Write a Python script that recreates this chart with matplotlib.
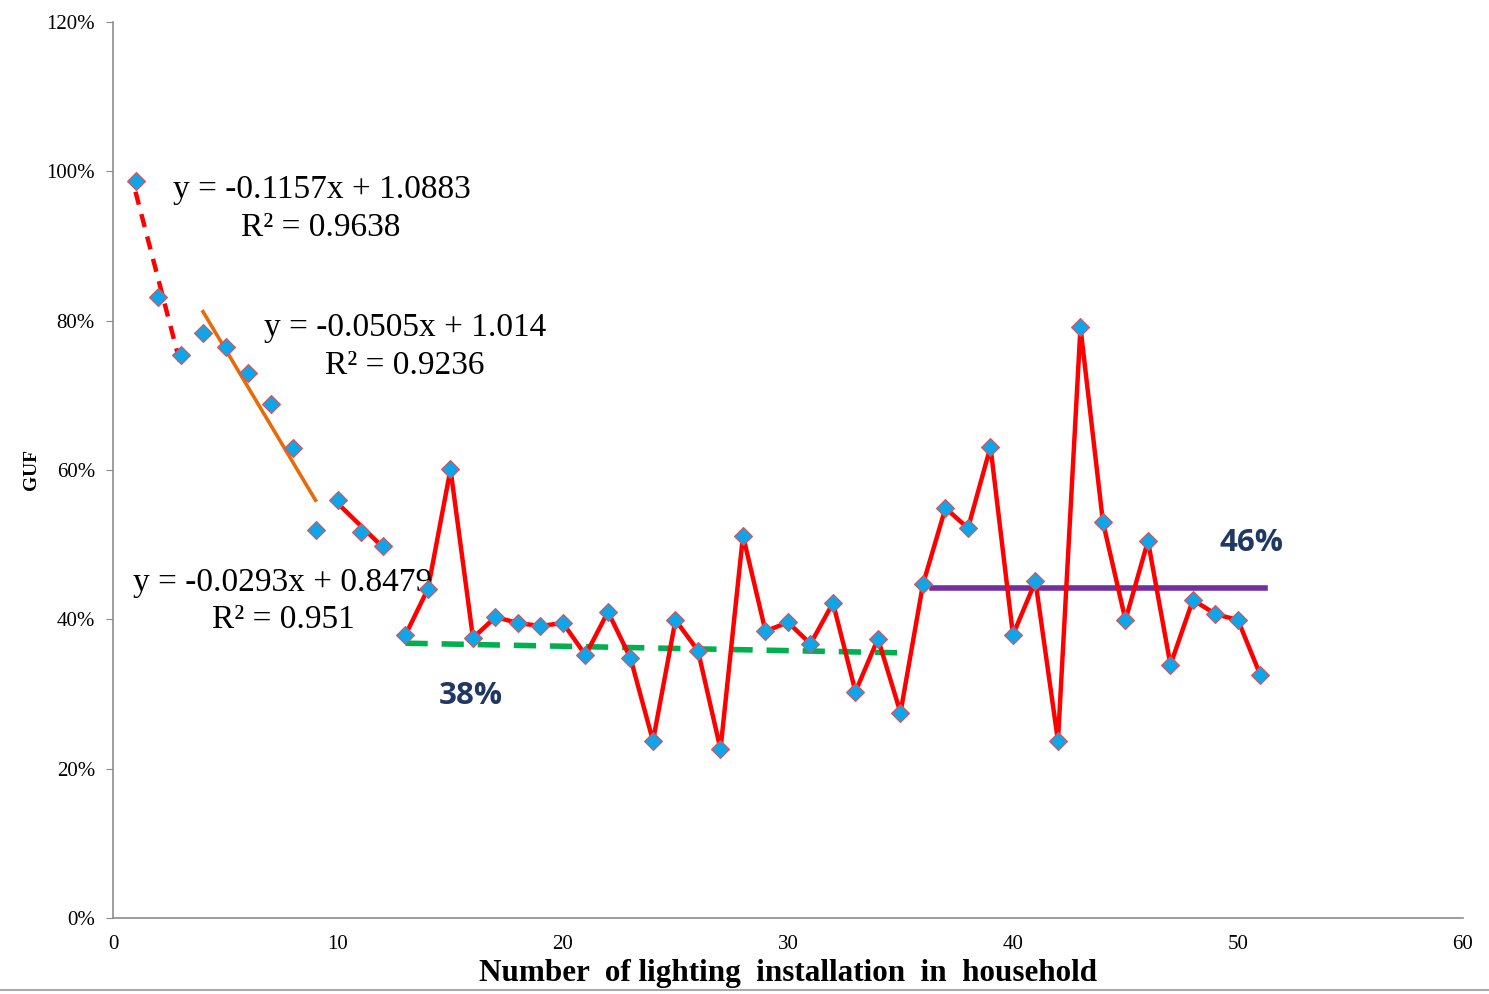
import matplotlib
matplotlib.use("Agg")
import matplotlib.pyplot as plt
import numpy as np
from matplotlib.ticker import FuncFormatter

# Data
x_vals = list(range(1, 52))
guf = [98.7, 83.2, 75.4, 78.3, 76.5, 73.0, 68.8, 62.9, 52.0, 56.0,
       51.7, 49.8, 37.9, 44.1, 60.1, 37.5, 40.3, 39.5, 39.1, 39.5,
       35.2, 41.0, 34.8, 23.7, 39.9, 35.8, 22.6, 51.2, 38.4, 39.6,
       36.7, 42.2, 30.3, 37.4, 27.5, 44.7, 54.9, 52.2, 63.1, 37.9,
       45.1, 23.7, 79.1, 53.0, 39.9, 50.5, 33.9, 42.6, 40.7, 39.9, 32.5]
guf = [v / 100 for v in guf]

# trend lines (slope, intercept, x range)
trend1 = (-0.1157, 1.0883, 1, 3)
trend2 = (-0.0505, 1.014, 4, 9)
trend3 = (-0.0293, 0.8479, 10, 12)
green_x = [13, 35.2]
green_y = [0.368, 0.355]
purple_x = [36.4, 51.2]
purple_y = [0.442, 0.442]

eq_lines = ["y = -0.1157x + 1.0883", "y = -0.0505x + 1.014", "y = -0.0293x + 0.8479"]
r2_lines = ["R² = 0.9638", "R² = 0.9236", "R² = 0.951"]
eq_pos = [(2.67, 0.975), (6.71, 0.790), (0.89, 0.449)]
r2_pos = [(5.69, 0.924), (9.42, 0.739), (4.4, 0.399)]

fig = plt.figure(figsize=(14.89, 9.94), dpi=100)
ax = fig.add_axes([0.0759, 0.0765, 0.9066, 0.9014])

serif = "Liberation Serif"

# red connecting line from point 13 on
ax.plot(x_vals[12:], guf[12:], color="#FF0000", lw=3.2, zorder=3)

def tl(tr):
    s, b, x0, x1 = tr
    xs = np.array([x0, x1], dtype=float)
    return xs, s * xs + b

xs, ys = tl(trend1)
ax.plot(xs, ys, color="#FF0000", lw=3.2, ls=(0, (3, 2.2)), zorder=2)
xs, ys = tl(trend2)
ax.plot(xs, ys, color="#E46C0A", lw=2.6, zorder=2)
xs, ys = tl(trend3)
ax.plot(xs, ys, color="#FF0000", lw=3.2, zorder=2)
ax.plot(green_x, green_y, color="#00B050", lw=4, ls=(0, (4, 2.5)), zorder=2)
ax.plot(purple_x, purple_y, color="#7030A0", lw=4, zorder=2)

ax.plot(x_vals, guf, ls="none", marker="D", markersize=9.5,
        markerfacecolor="#10A5E8", markeredgecolor="#E05050", markeredgewidth=0.8, zorder=4)

ax.set_xlim(0, 60)
ax.set_ylim(0, 1.2)
ax.set_xticks(range(0, 61, 10))
ax.set_yticks(np.arange(0, 1.21, 0.2))
ax.yaxis.set_major_formatter(FuncFormatter(lambda v, p: f"{v*100:.0f}%"))

for s in ["top", "right"]:
    ax.spines[s].set_visible(False)
for s in ["left", "bottom"]:
    ax.spines[s].set_color("#8C8C8C")
    ax.spines[s].set_linewidth(1.2)
ax.tick_params(axis="y", direction="out", length=5, color="#8C8C8C", labelsize=15, pad=8)
ax.tick_params(axis="x", length=0, labelsize=15, pad=12)
for lab in ax.get_xticklabels() + ax.get_yticklabels():
    lab.set_fontfamily(serif)

ax.set_xlabel("Number  of lighting  installation  in  household", fontfamily=serif,
              fontweight="bold", fontsize=22.4, va="center")
ax.xaxis.set_label_coords(0.5, -0.0615)
ax.set_ylabel("GUF", fontfamily=serif, fontweight="bold", fontsize=14, va="center")
ax.yaxis.set_label_coords(-0.0605, 0.5)

for txt, (px, py) in zip(eq_lines, eq_pos):
    ax.text(px, py, txt, fontfamily=serif, fontsize=24, va="center", ha="left")
for txt, (px, py) in zip(r2_lines, r2_pos):
    ax.text(px, py, txt, fontfamily=serif, fontsize=24, va="center", ha="left")

ax.text(15.9, 0.297, "38%", fontfamily="Open Sans", fontweight="bold", fontsize=22.5,
        color="#1F3864", ha="center", va="center")
ax.text(50.6, 0.502, "46%", fontfamily="Open Sans", fontweight="bold", fontsize=22.5,
        color="#1F3864", ha="center", va="center")

# bottom border line
fig.add_artist(plt.Line2D([0, 1], [0.004, 0.004], color="#AAAAAA", lw=1.5))

fig.savefig("out.png", dpi=100)
